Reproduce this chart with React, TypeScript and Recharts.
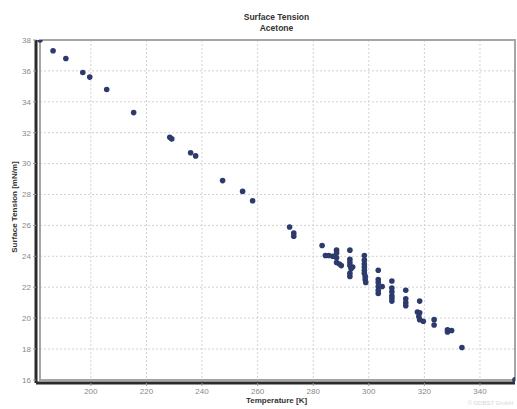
import { ScatterChart, Scatter, XAxis, YAxis, CartesianGrid, ReferenceArea } from 'recharts';

// Temperature [K] of each measurement
const temperatureK = [
  181.7, 186.4, 191.0, 197.1, 199.6, 205.7, 215.4, 228.4, 229.1, 235.9, 237.7,
  247.4, 254.6, 258.2, 271.5, 273.0, 273.0,
  283.2, 284.4, 285.6, 287.0, 288.4, 288.4, 288.4, 288.4, 289.4, 290.1,
  293.2, 293.2, 293.2, 293.2, 293.6, 294.2, 293.2, 293.2,
  298.4, 298.4, 298.4, 298.4, 298.4, 298.4, 298.7, 298.7, 298.9,
  303.4, 303.4, 303.4, 303.4, 304.8, 303.4, 303.4,
  308.3, 308.3, 308.3, 308.3, 308.3, 308.3,
  313.3, 313.3, 313.3, 313.3,
  318.3, 317.5, 318.3, 318.0, 318.3, 319.6,
  323.5, 323.5, 328.3, 328.3, 329.8, 333.5, 352.6,
];

// Surface tension [mN/m] matching temperatureK
const surfaceTension = [
  38.0, 37.3, 36.8, 35.9, 35.6, 34.8, 33.3, 31.7, 31.6, 30.7, 30.5,
  28.9, 28.2, 27.6, 25.9, 25.5, 25.3,
  24.7, 24.05, 24.05, 24.0, 24.4, 24.2, 23.9, 23.6, 23.5, 23.4,
  24.4, 23.8, 23.6, 23.4, 23.2, 23.3, 22.9, 22.7,
  24.05, 23.75, 23.5, 23.3, 23.1, 22.9, 22.7, 22.5, 22.3,
  23.1, 22.5, 22.3, 22.05, 22.05, 21.6, 21.8,
  22.4, 21.95, 21.7, 21.45, 21.3, 21.1,
  21.8, 21.25, 21.0, 20.8,
  21.1, 20.4, 20.35, 20.1, 19.9, 19.8,
  19.9, 19.55, 19.25, 19.1, 19.2, 18.1, 16.0,
];

const xTicks = [200, 220, 240, 260, 280, 300, 320, 340];
const yTicks = [16, 18, 20, 22, 24, 26, 28, 30, 32, 34, 36, 38];

const data = temperatureK.map((t, i) => ({ t, st: surfaceTension[i] }));

const font = 'Liberation Sans, Arial, sans-serif';
const dotColor = '#2c3a6c';

const Dot = (props: any) => <circle cx={props.cx} cy={props.cy} r={2.8} fill={dotColor} />;

export default function App() {
  return (
    <div style={{ position: 'absolute', top: 0, left: 0, width: 517, height: 409, background: '#fff', fontFamily: font }}>
      {/* title */}
      <div style={{ position: 'absolute', top: 12, left: 36, width: 481, textAlign: 'center', fontSize: 8.5, fontWeight: 'bold', lineHeight: '11px', color: '#333' }}>
        Surface Tension<br />Acetone
      </div>
      {/* y axis title */}
      <div
        style={{
          position: 'absolute', left: 15, top: 207, width: 160, marginLeft: -80, marginTop: -5,
          textAlign: 'center', fontSize: 8, fontWeight: 'bold', lineHeight: '10px', color: '#333',
          transform: 'rotate(-90deg)',
        }}
      >
        Surface Tension [mN/m]
      </div>
      {/* x axis title */}
      <div style={{ position: 'absolute', top: 396, left: 36, width: 481, textAlign: 'center', fontSize: 8, fontWeight: 'bold', lineHeight: '10px', color: '#333' }}>
        Temperature [K]
      </div>
      <div style={{ position: 'absolute', top: 400, right: 4, fontSize: 6, color: '#d6d6d6' }}>© DDBST GmbH</div>

      <ScatterChart width={517} height={409} margin={{ top: 40, right: 2, bottom: 0, left: 0 }}>
        <CartesianGrid strokeDasharray="2 2" stroke="#d2d2d2" />
        <ReferenceArea x1={181.7} x2={352.6} y1={16} y2={38} fill="none" stroke="#a6a6a6" strokeWidth={2} />
        <XAxis
          type="number"
          dataKey="t"
          domain={[180.26, 352.6]}
          ticks={xTicks}
          height={26}
          tickSize={3}
          tickMargin={2}
          axisLine={{ stroke: '#2b2b2b', strokeWidth: 3 }}
          tickLine={{ stroke: '#999' }}
          tick={{ fill: '#888', fontSize: 8, fontFamily: font }}
          allowDataOverflow
        />
        <YAxis
          type="number"
          dataKey="st"
          domain={[15.8, 38]}
          ticks={yTicks}
          width={36}
          tickSize={3}
          tickMargin={2}
          axisLine={{ stroke: '#2b2b2b', strokeWidth: 3 }}
          tickLine={{ stroke: '#999' }}
          tick={{ fill: '#888', fontSize: 8, fontFamily: font }}
          allowDataOverflow
        />
        <Scatter data={data} fill={dotColor} shape={Dot} isAnimationActive={false} />
      </ScatterChart>
    </div>
  );
}
